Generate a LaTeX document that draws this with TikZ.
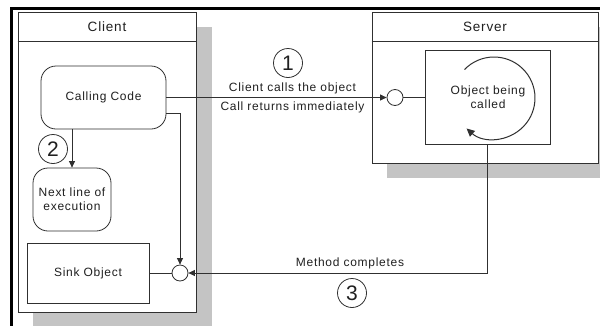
\documentclass[tikz,border=0pt]{standalone}
\usepackage{fontspec}
\setmainfont{Liberation Sans}[LetterSpace=6]
\usetikzlibrary{arrows.meta,calc}

\definecolor{edge}{HTML}{303030}
\definecolor{shade}{HTML}{C4C4C4}
\definecolor{ink}{HTML}{202020}

\tikzset{
  frame/.style={draw=edge, line width=0.8pt, fill=white},
  shadowfill/.style={fill=shade, draw=none},
  roundbox/.style={frame, rounded corners=15pt, inner sep=0pt},
  sqbox/.style={frame, inner sep=0pt},
  lbl/.style={font=\fontsize{12}{14}\selectfont, text=ink, inner sep=0pt, align=center},
  headlbl/.style={font=\fontsize{13.5}{15}\selectfont, text=ink, inner sep=0pt},
  stepnum/.style={circle, draw=edge, line width=0.8pt, minimum size=29pt, inner sep=0pt,
    font=\fontsize{21}{21}\selectfont, text=ink},
  port/.style={circle, draw=edge, line width=0.8pt, fill=white, minimum size=16pt, inner sep=0pt},
  wire/.style={draw=edge, line width=0.8pt},
  arr/.style={wire, -{Triangle[length=6.5pt,width=6pt]}},
}

\begin{document}
\begin{tikzpicture}[x=1pt, y=-1pt]
\useasboundingbox (0,0) rectangle (600,325);

% outer page frame (only the top and left edges lie in view)
\draw[line width=3pt, black] (11.5,330) -- (11.5,8.5) -- (605,8.5);

% --- Client container ---
\fill[shadowfill] (33,27) rectangle (212,335);
\node[sqbox, minimum width=178pt, minimum height=300pt] (client) at (107,162) {};
\draw[wire] ([yshift=-30pt]client.north west) -- ([yshift=-30pt]client.north east);
\node[headlbl] (clienthead) at ([yshift=-15pt]client.north) {Client};

% --- Server container ---
\fill[shadowfill] (387,27) rectangle (615,178);
\node[sqbox, minimum width=226pt, minimum height=151pt] (server) at (485,87.5) {};
\draw[wire] ([yshift=-30pt]server.north west) -- ([yshift=-30pt]server.north east);
\node[headlbl] (serverhead) at ([yshift=-15pt]server.north) {Server};

% --- client side blocks ---
\node[roundbox, minimum width=125pt, minimum height=63pt] (calling) at (103.5,97.5) {};
\node[lbl] (callingtxt) at (calling.center) {Calling Code};

\node[roundbox, minimum width=78pt, minimum height=63pt] (next) at (72,199.5) {};
\node[lbl] (nexttxt) at (next.center) {Next line of\\execution};

\node[sqbox, minimum width=122pt, minimum height=60pt] (sink) at (88,273) {};
\node[lbl] (sinktxt) at (sink.center) {Sink Object};

\node[port] (sinkport) at (180,273) {};

% --- server side blocks ---
\node[sqbox, minimum width=125pt, minimum height=94pt] (object) at (487.5,97.5) {};
\node[lbl] (objecttxt) at (488,97) {Object being\\called};
\draw[wire, line width=1pt, -{Triangle[length=8pt,width=7.5pt]}]
  ($(object.center)+(6.5,0.5)+(-136:41)$) arc[start angle=-136, end angle=132, radius=41];

\node[port] (serverport) at (395,97.5) {};

% --- connectors ---
\draw[arr] (calling.east) -- (serverport.west);
\draw[wire] (serverport.east) -- (object.west);
\node[lbl] (calltxt) at (292.5,88) {Client calls the object};
\node[lbl] (returntxt) at (292.5,107) {Call returns immediately};
\node[stepnum] (one) at (288,63) {1};

\draw[arr] (calling.south -| next.north) -- (next.north);
\node[stepnum] (two) at (53,149) {2};

\draw[arr] ([yshift=-15.5pt]calling.east) -| (sinkport.north);
\draw[wire] (sink.east) -- (sinkport.west);

\draw[arr] (object.south) |- (sinkport.east);
\node[lbl] (donetxt) at (350,263) {Method completes};
\node[stepnum] (three) at (352,293) {3};
\end{tikzpicture}
\end{document}
